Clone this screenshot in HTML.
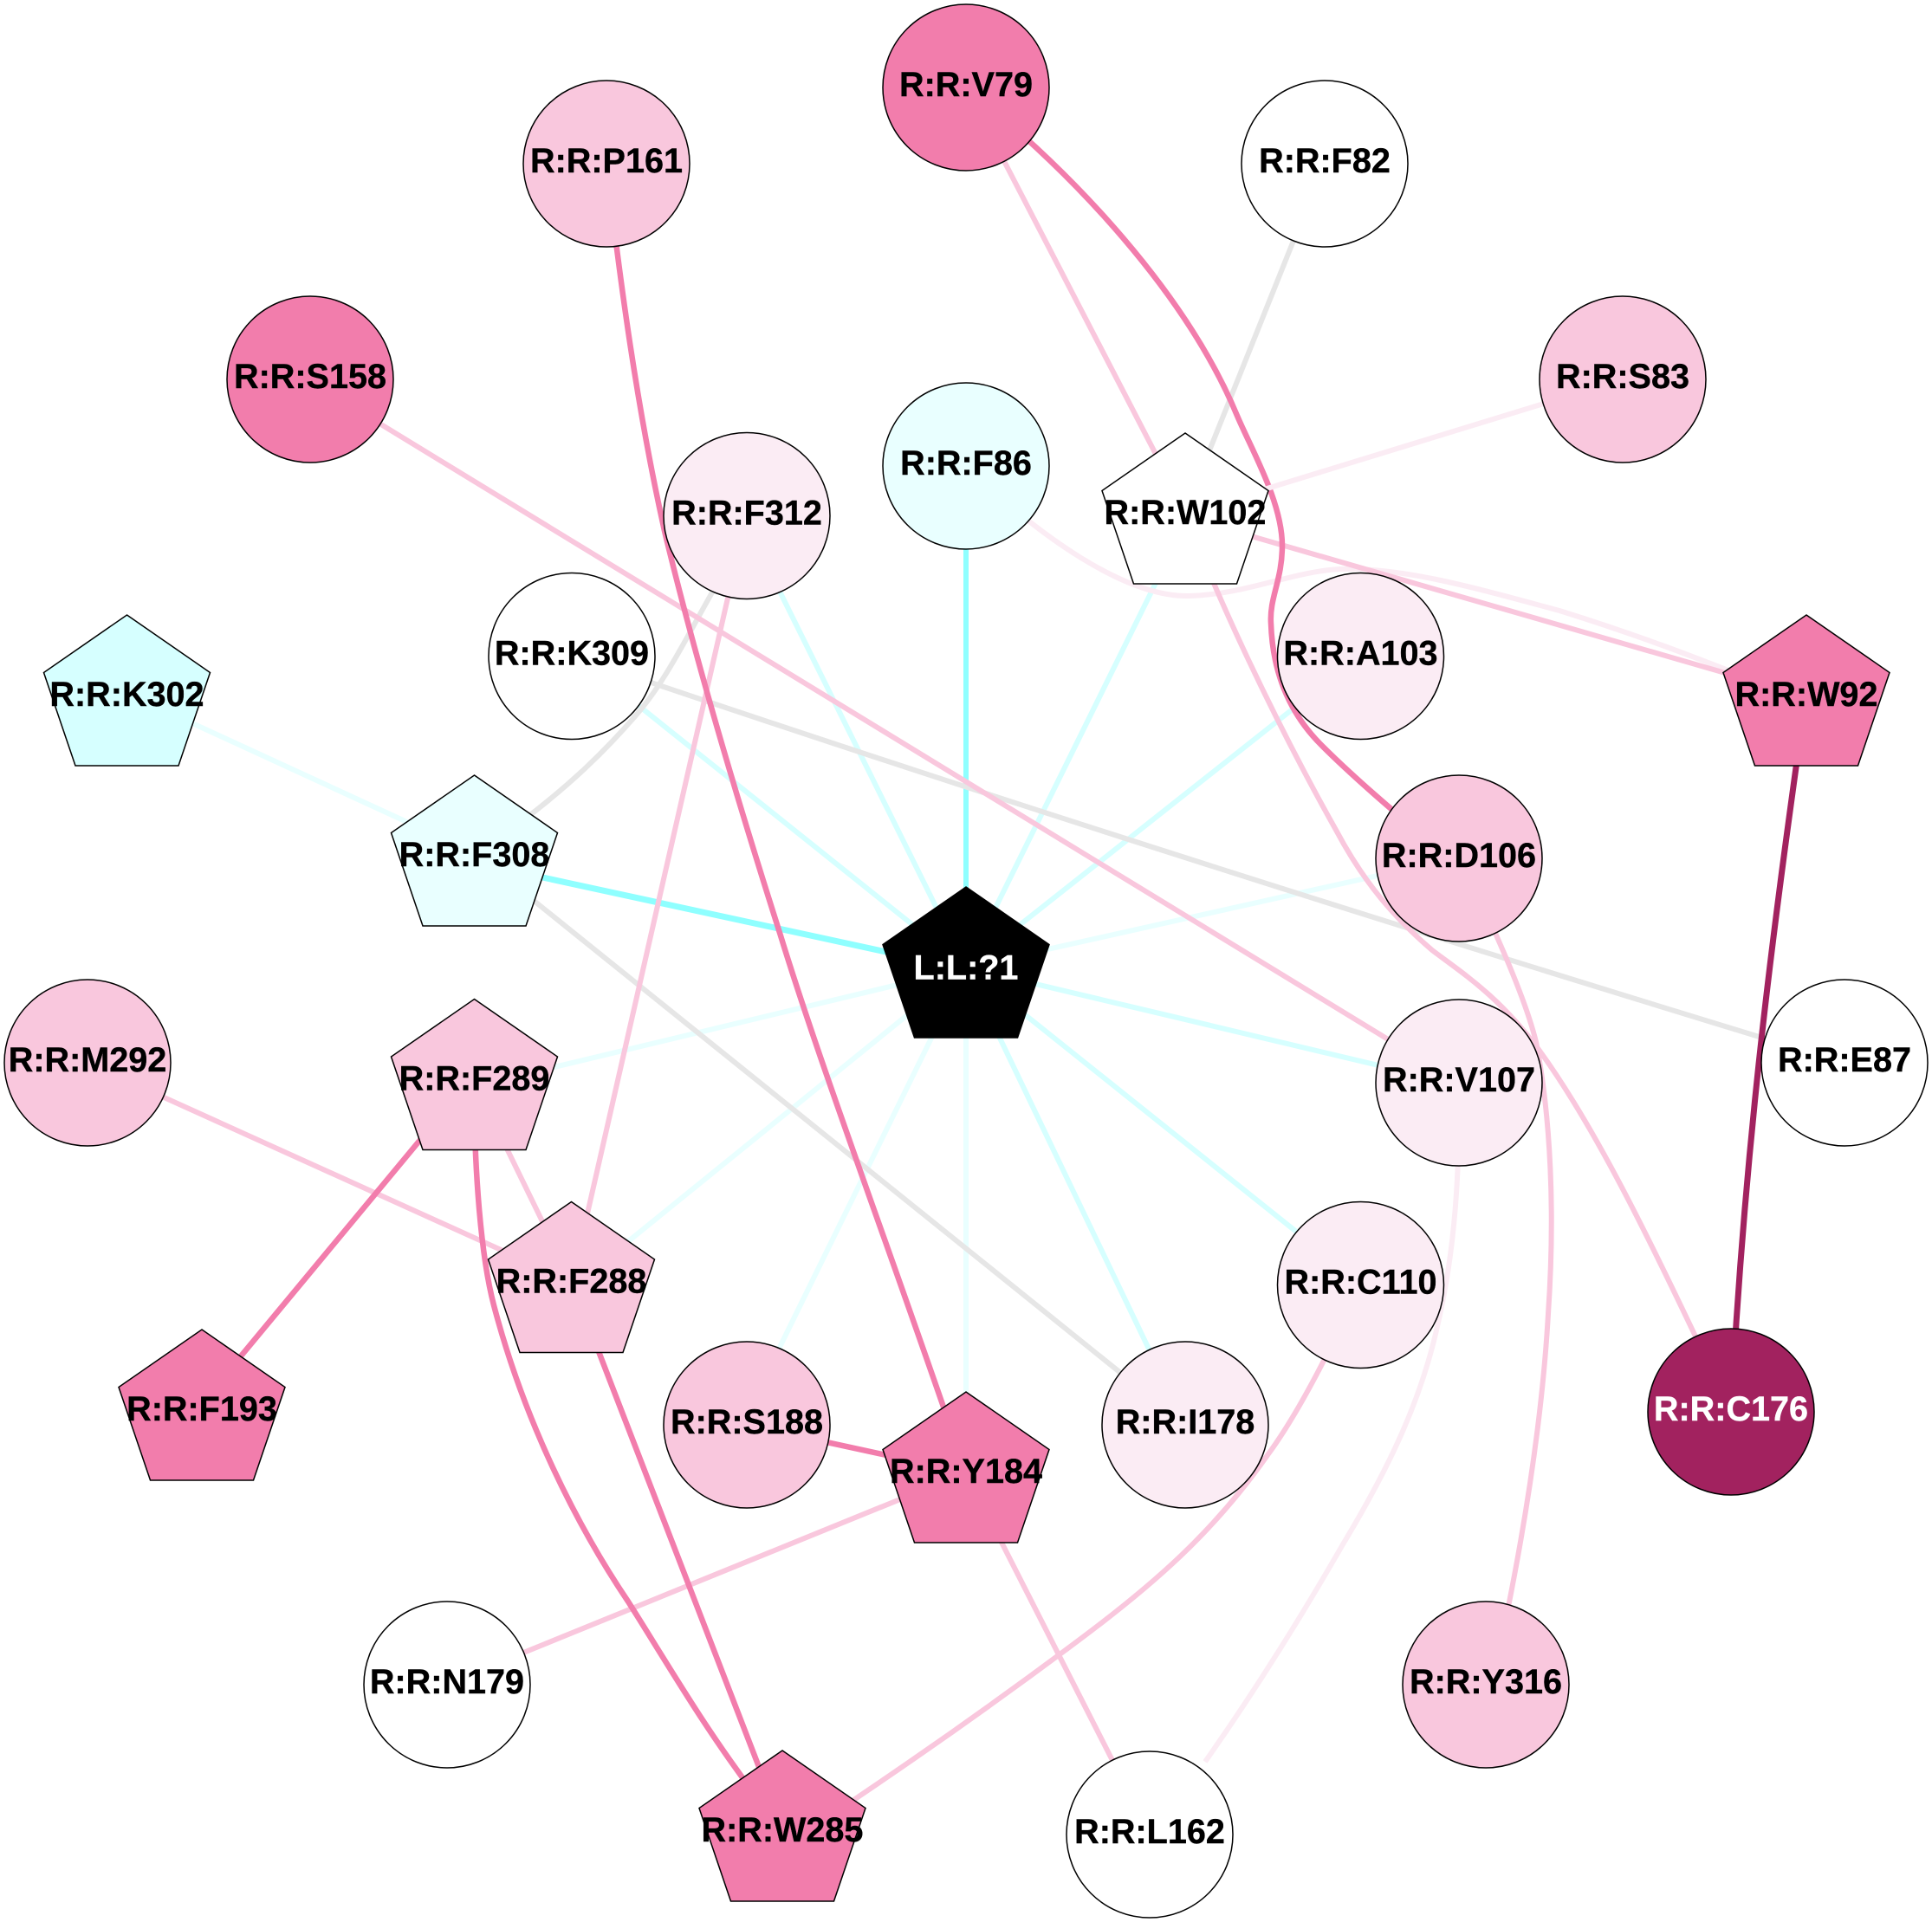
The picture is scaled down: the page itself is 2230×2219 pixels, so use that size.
<!DOCTYPE html>
<html><head><meta charset="utf-8"><style>html,body{margin:0;padding:0;background:#fff}svg{display:block}text{font-family:"Liberation Sans",sans-serif;font-weight:bold;font-size:39.6px;text-anchor:middle;fill:#000;stroke:#000;stroke-width:.4}text.w{fill:#fff;stroke:#fff}</style></head><body>
<svg width="2230" height="2219" viewBox="0 0 2230 2219" xmlns="http://www.w3.org/2000/svg">
<rect width="2230" height="2219" fill="#fff"/>
<g fill="none" stroke-linecap="butt">
<g stroke="#d6ffff" stroke-width="6">
<path d="M1115 1117L856 594M1115 1117L660 753M1115 1117L1375 590M1115 1117L1570 757M1115 1117L1684 1252M1115 1117L1570 1481M1115 1117L1368 1645"/>
</g>
<g stroke="#e9ffff" stroke-width="6">
<path d="M1115 1117L1684 990M1115 1118L548 1254M1115 1117L660 1486M1115 1117L856 1645M1115 1117L1115 1700M146 800L548 985"/>
</g>
<path d="M1115 538L1115 1117" stroke="#8fffff" stroke-width="6"/>
<path d="M548 996L1115 1119" stroke="#8fffff" stroke-width="7"/>
<g stroke="#e6e6e6" stroke-width="6">
<path d="M1529 188L1368 590M660 757Q1300 975 2129 1227M548 985L1368 1645M600 950C660 905 700 865 733 827C770 785 795 730 830 670"/>
</g>
<g stroke="#fbecf4" stroke-width="6">
<path d="M1115 538C1200 620 1300 690 1373 688C1440 686 1490 660 1547 657C1620 655 1700 678 1800 705C1880 730 1950 755 2085 810"/>
<path d="M1684 1250C1685 1350 1680 1440 1660 1527C1640 1620 1600 1700 1550 1783C1500 1870 1450 1950 1391 2034"/>
</g>
<g stroke="#f9c7dd" stroke-width="6">
<path d="M1115 101L1368 590M1368 597L2085 804M358 440L1684 1250M862 594L660 1480M101 1227L660 1480M547 1248L660 1480M1115 1700L516 1944M1115 1700L1327 2117"/>
<path d="M1368 590C1400 680 1470 830 1543 960C1575 1020 1610 1060 1653 1097C1690 1125 1730 1150 1777 1213C1840 1300 1900 1420 1998 1630"/>
<path d="M1684 990C1720 1060 1760 1150 1773 1203C1790 1290 1795 1400 1787 1517C1780 1640 1760 1760 1740 1860"/>
<path d="M1570 1483C1540 1550 1500 1630 1463 1680C1400 1770 1330 1830 1250 1890C1170 1950 1080 2015 960 2095"/>
</g>
<g stroke="#f27dac" stroke-width="6.5">
<path d="M1115 101C1240 200 1370 340 1428 480C1445 520 1480 580 1480 630C1480 670 1465 690 1467 720C1469 780 1490 825 1525 860C1560 895 1600 930 1684 1000"/>
<path d="M700 188C715 320 735 470 767 613C800 750 850 920 900 1077C950 1240 1030 1450 1115 1700"/>
<path d="M547 1240C547 1350 555 1450 570 1507C605 1640 665 1760 725 1849C770 1920 810 1990 870 2070"/>
<path d="M660 1480L903 2110M548 1240L233 1620M862 1645L1115 1700"/>
</g>
<path d="M1368 593L1873 438" stroke="#fbecf4" stroke-width="6" fill="none"/>
<path d="M2085 800C2050 1050 2015 1300 1998 1630" stroke="#a2225f" stroke-width="7"/>
</g>
<g stroke="#000" stroke-width="1.5">
<circle cx="1115" cy="101" r="96" fill="#f27dac"/>
<circle cx="700" cy="189" r="96" fill="#f9c7dd"/>
<circle cx="1529" cy="189" r="96" fill="#fff"/>
<circle cx="358" cy="438" r="96" fill="#f27dac"/>
<circle cx="1873" cy="438" r="96" fill="#f9c7dd"/>
<circle cx="1115" cy="538" r="96" fill="#e9ffff"/>
<circle cx="862" cy="595.5" r="96" fill="#fbecf4"/>
<circle cx="660" cy="757.5" r="96" fill="#fff"/>
<circle cx="1570.5" cy="757.5" r="96" fill="#fbecf4"/>
<circle cx="1684" cy="991" r="96" fill="#f9c7dd"/>
<circle cx="101" cy="1227" r="96" fill="#f9c7dd"/>
<circle cx="1684" cy="1250" r="96" fill="#fbecf4"/>
<circle cx="2129" cy="1227" r="96" fill="#fff"/>
<circle cx="1570.5" cy="1483.5" r="96" fill="#fbecf4"/>
<circle cx="862" cy="1645" r="96" fill="#f9c7dd"/>
<circle cx="1368" cy="1645" r="96" fill="#fbecf4"/>
<circle cx="1998" cy="1630" r="96" fill="#a2225f"/>
<circle cx="516" cy="1945" r="96" fill="#fff"/>
<circle cx="1715" cy="1945" r="96" fill="#f9c7dd"/>
<circle cx="1327" cy="2118" r="96" fill="#fff"/>
<polygon transform="translate(1368 500)" points="0,0 96,66.5 59.5,174 -59.5,174 -96,66.5" fill="#fff"/>
<polygon transform="translate(146.5 710)" points="0,0 96,66.5 59.5,174 -59.5,174 -96,66.5" fill="#d6ffff"/>
<polygon transform="translate(547.5 895)" points="0,0 96,66.5 59.5,174 -59.5,174 -96,66.5" fill="#e9ffff"/>
<polygon transform="translate(2085 710)" points="0,0 96,66.5 59.5,174 -59.5,174 -96,66.5" fill="#f27dac"/>
<polygon transform="translate(547.5 1153.5)" points="0,0 96,66.5 59.5,174 -59.5,174 -96,66.5" fill="#f9c7dd"/>
<polygon transform="translate(659.5 1387.5)" points="0,0 96,66.5 59.5,174 -59.5,174 -96,66.5" fill="#f9c7dd"/>
<polygon transform="translate(233 1535)" points="0,0 96,66.5 59.5,174 -59.5,174 -96,66.5" fill="#f27dac"/>
<polygon transform="translate(1115 1607)" points="0,0 96,66.5 59.5,174 -59.5,174 -96,66.5" fill="#f27dac"/>
<polygon transform="translate(903 2021)" points="0,0 96,66.5 59.5,174 -59.5,174 -96,66.5" fill="#f27dac"/>
<polygon transform="translate(1115 1024)" points="0,0 96,66.5 59.5,174 -59.5,174 -96,66.5" fill="#000"/>
</g>
<text x="1115" y="111">R:R:V79</text>
<text x="700" y="199">R:R:P161</text>
<text x="1529" y="199">R:R:F82</text>
<text x="358" y="448">R:R:S158</text>
<text x="1873" y="448">R:R:S83</text>
<text x="1115" y="548">R:R:F86</text>
<text x="862" y="605.5">R:R:F312</text>
<text x="660" y="767.5">R:R:K309</text>
<text x="1570.5" y="767.5">R:R:A103</text>
<text x="1684" y="1001">R:R:D106</text>
<text x="101" y="1237">R:R:M292</text>
<text x="1684" y="1260">R:R:V107</text>
<text x="2129" y="1237">R:R:E87</text>
<text x="1570.5" y="1493.5">R:R:C110</text>
<text x="862" y="1655">R:R:S188</text>
<text x="1368" y="1655">R:R:I178</text>
<text x="1998" y="1640" class="w">R:R:C176</text>
<text x="516" y="1955">R:R:N179</text>
<text x="1715" y="1955">R:R:Y316</text>
<text x="1327" y="2128">R:R:L162</text>
<text x="1368" y="605">R:R:W102</text>
<text x="146.5" y="815">R:R:K302</text>
<text x="547.5" y="1000">R:R:F308</text>
<text x="2085" y="815">R:R:W92</text>
<text x="547.5" y="1258.5">R:R:F289</text>
<text x="659.5" y="1492.5">R:R:F288</text>
<text x="233" y="1640">R:R:F193</text>
<text x="1115" y="1712">R:R:Y184</text>
<text x="903" y="2126">R:R:W285</text>
<text x="1115" y="1130.5" class="w">L:L:?1</text>
</svg>
</body></html>
